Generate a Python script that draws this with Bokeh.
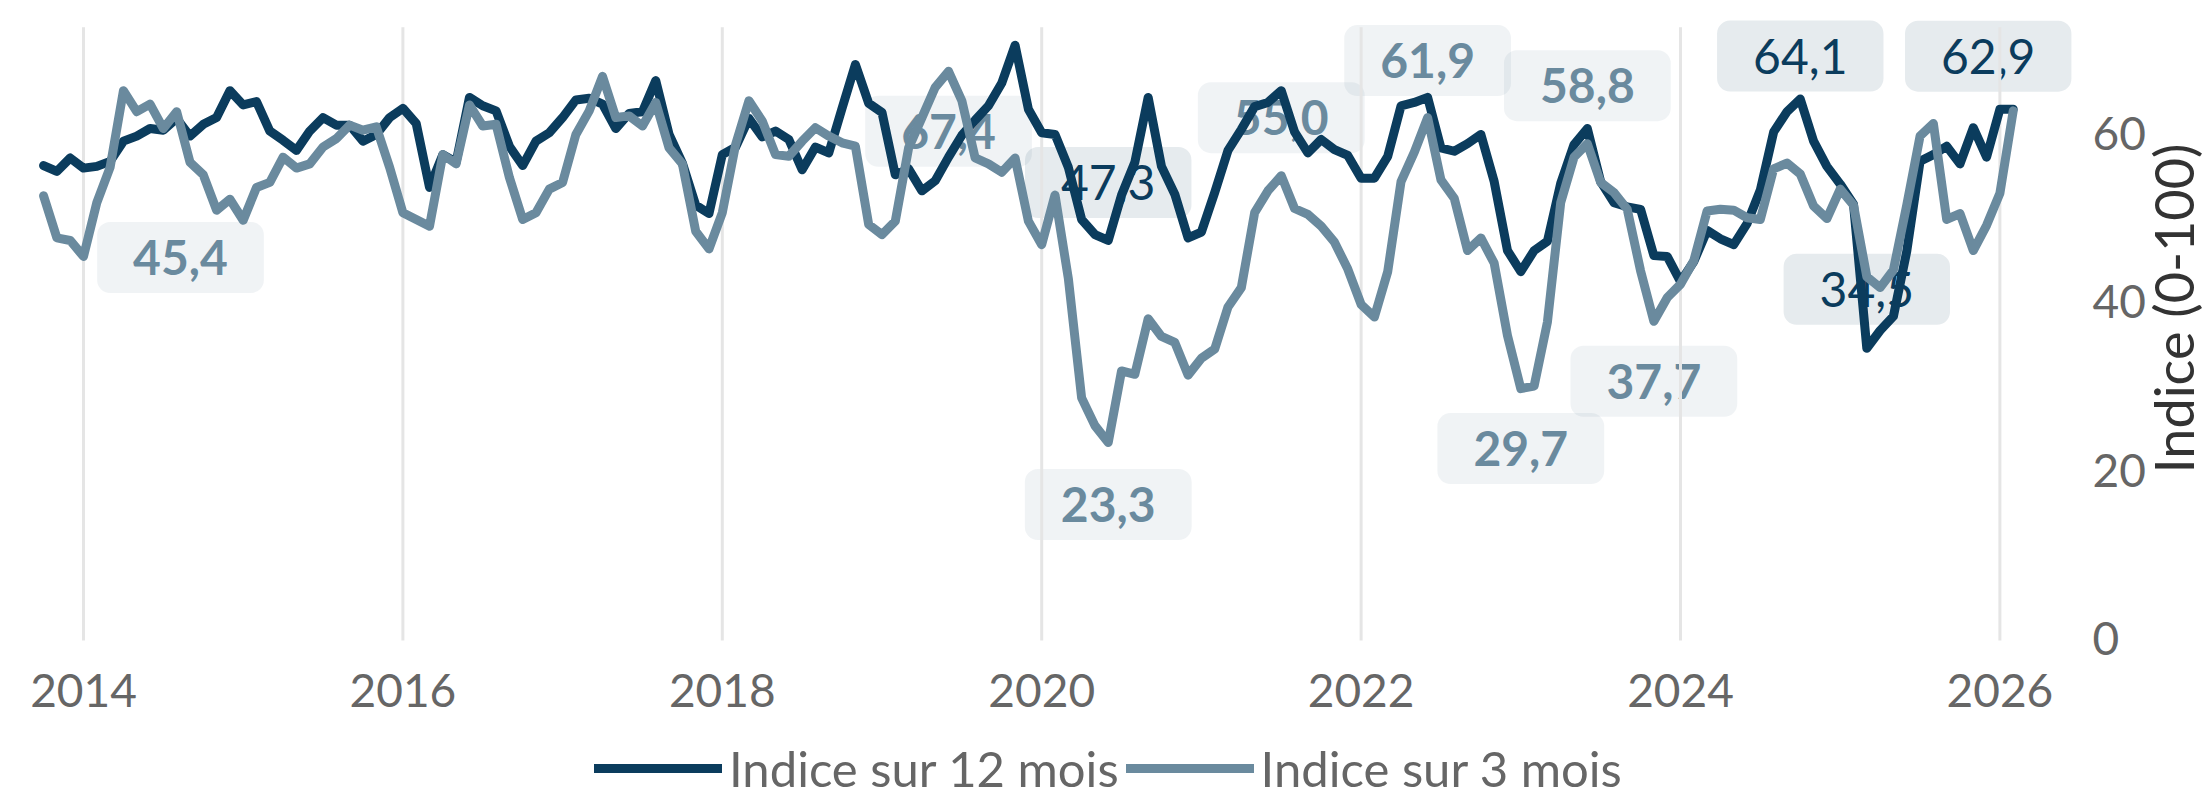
import math
import pandas as pd
from bokeh.plotting import figure
from bokeh.models import Label, Legend, LegendItem, Range1d
from bokeh.core.properties import value
from bokeh.embed import file_html
from bokeh.resources import INLINE

# ---- data (monthly, Oct 2013 -> Feb 2026) ----
first_month = "2013-10-01"

indice_12_mois = [
    56.2, 55.5, 57.1,                                                    # 2013 (oct-dec)
    55.9, 56.1, 56.7, 59.1, 59.7, 60.6, 60.4, 61.8, 59.7, 61.1, 61.9, 65.1,  # 2014
    63.4, 63.8, 60.3, 59.2, 58.0, 60.3, 61.9, 61.0, 61.0, 59.1, 59.9, 61.9,  # 2015
    63.0, 61.2, 53.6, 57.5, 56.6, 64.3, 63.3, 62.7, 58.5, 56.2, 59.1, 60.1,  # 2016
    61.9, 64.0, 64.2, 63.5, 60.6, 62.4, 62.6, 66.3, 59.9, 56.5, 51.5, 50.5,  # 2017
    57.5, 58.4, 61.8, 59.6, 60.3, 59.3, 55.7, 58.4, 57.7, 63.0, 68.2, 63.6,  # 2018
    62.5, 55.1, 55.8, 53.2, 54.4, 57.2, 59.8, 61.6, 63.3, 66.0, 70.5, 62.9,  # 2019
    60.1, 59.9, 56.0, 49.8, 48.0, 47.3, 52.7, 56.6, 64.3, 56.1, 52.8, 47.6,  # 2020
    48.3, 53.0, 58.0, 60.5, 63.2, 63.7, 65.1, 60.2, 57.7, 59.3, 58.1, 57.4,  # 2021
    54.7, 54.7, 57.3, 63.3, 63.7, 64.3, 58.3, 57.9, 58.8, 59.9, 54.3, 46.1,  # 2022
    43.6, 46.1, 47.2, 54.1, 58.7, 60.6, 54.3, 51.8, 51.3, 51.0, 45.5, 45.4,  # 2023
    42.4, 44.8, 48.5, 47.5, 46.8, 49.3, 53.3, 60.2, 62.6, 64.1, 59.1, 56.1,  # 2024
    54.0, 51.6, 34.5, 36.6, 38.3, 46.0, 56.7, 57.5, 58.5, 56.4, 60.7, 57.2,  # 2025
    62.9, 62.9,                                                          # 2026
]

indice_3_mois = [
    52.6, 47.6, 47.3,
    45.4, 51.8, 56.0, 65.1, 62.6, 63.5, 60.6, 62.6, 56.6, 55.1, 50.9, 52.2,
    49.7, 53.6, 54.2, 57.2, 55.9, 56.4, 58.4, 59.4, 61.0, 60.4, 60.8, 56.0,
    50.6, 49.8, 49.0, 57.5, 56.4, 63.4, 60.9, 61.1, 54.8, 49.8, 50.6, 53.4,
    54.2, 59.9, 62.7, 66.8, 61.9, 62.1, 60.9, 63.7, 58.3, 56.4, 48.4, 46.3,
    50.6, 58.7, 63.9, 61.5, 57.5, 57.3, 59.1, 60.7, 59.7, 58.9, 58.5, 49.2,
    48.0, 49.6, 58.3, 61.9, 65.5, 67.4, 63.9, 57.1, 56.4, 55.4, 57.1, 49.6,
    46.8, 52.7, 42.8, 28.6, 25.3, 23.3, 31.8, 31.4, 38.0, 35.9, 35.2, 31.3,
    33.3, 34.4, 39.4, 41.7, 50.6, 53.2, 55.0, 51.1, 50.4, 49.0, 47.1, 43.9,
    39.7, 38.2, 43.6, 54.3, 57.8, 61.9, 54.5, 52.3, 46.1, 47.6, 44.6, 36.0,
    29.7, 30.0, 37.6, 51.8, 57.2, 58.8, 54.2, 53.0, 51.0, 43.7, 37.7, 40.5,
    42.1, 44.9, 50.8, 51.0, 50.9, 50.0, 49.8, 55.8, 56.5, 55.2, 51.4, 49.9,
    53.4, 51.5, 43.0, 41.7, 43.8, 51.5, 59.7, 61.2, 49.8, 50.5, 46.1, 49.1,
    52.9, 62.7,
]

series_names = ["Indice sur 12 mois", "Indice sur 3 mois"]
x_ticks = [2014, 2016, 2018, 2020, 2022, 2024, 2026]
y_ticks = [0, 20, 40, 60]
y_title = "Indice (0-100)"

# annotated points: (series, month "YYYY-MM", x offset px, y offset px)
annotations = [
    ("3", "2014-01", 97, -1),
    ("3", "2019-06", 0, -60),
    ("12", "2020-06", 0, 58),
    ("3", "2020-06", 0, -62),
    ("3", "2021-07", 0, 58),
    ("3", "2022-06", 0, 57),
    ("3", "2023-01", 0, -60),
    ("3", "2023-06", 0, 58),
    ("3", "2023-11", 0, -60),
    ("12", "2024-10", 0, 43),
    ("12", "2025-03", 0, 59),
    ("12", "2026-02", -25, 53),
]

# ---- geometry (pixels) ----
W, H = 2207, 798
PX_YEAR = 159.7          # pixels per year
X0_PX = 83               # pixel of the first x tick
PX_UNIT = 8.417          # pixels per index point
Y0_PX = 638.1            # pixel row of index 0
x_start = x_ticks[0] - X0_PX / PX_YEAR
x_end = x_start + W / PX_YEAR
y_end = Y0_PX / PX_UNIT
y_start = -(H - Y0_PX) / PX_UNIT

def x_at(px):
    return x_start + px / PX_YEAR

def y_at(py):
    return (Y0_PX - py) / PX_UNIT

# ---- build ----
months = pd.date_range(first_month, periods=len(indice_12_mois), freq="MS")
xs = [d.year + (d.month - 1) / 12.0 for d in months]
keys = [d.strftime("%Y-%m") for d in months]

DARK = "#0b3c5d"
LIGHT = "#6a8a9e"
FONT = "Lato"

p = figure(width=W, height=H, output_backend="svg", toolbar_location=None,
           x_range=Range1d(x_start, x_end), y_range=Range1d(y_start, y_end),
           x_axis_location=None, y_axis_location=None,
           min_border=0, min_border_left=0, min_border_right=0,
           min_border_top=0, min_border_bottom=0)
p.outline_line_color = None
p.background_fill_color = "white"
p.border_fill_color = "white"
p.grid.visible = False

# vertical grid lines at the year ticks, from 0 to the top of the plot area
grid_top = y_at(26.7)
grid_bottom = y_at(640)
p.segment(x0=x_ticks, x1=x_ticks, y0=[grid_bottom] * len(x_ticks), y1=[grid_top] * len(x_ticks),
          line_color="#e5e5e5", line_width=3)

# x tick labels
p.text(x=x_ticks, y=[y_at(690)] * len(x_ticks), text=[str(t) for t in x_ticks],
       text_align="center", text_baseline="middle", text_font=value(FONT),
       text_font_size="46px", text_color="#666666")
# y tick labels (right side)
p.text(x=[x_at(2092)] * len(y_ticks), y=y_ticks, text=[str(t) for t in y_ticks],
       text_align="left", text_baseline="middle", text_font=value(FONT),
       text_font_size="46px", text_color="#666666")
# y axis title (rotated, reading upwards)
p.text(x=[x_at(2173)], y=[y_at(308)], text=[y_title], angle=math.pi / 2,
       text_align="center", text_baseline="middle", text_font=value(FONT),
       text_font_size="54px", text_color="#333333")

series = {"12": (indice_12_mois, DARK), "3": (indice_3_mois, LIGHT)}

for ser, key, dx, dy in annotations:
    vals, col = series[ser]
    i = keys.index(key)
    txt = f"{vals[i]:.1f}".replace(".", ",")
    lab = Label(x=xs[i], y=vals[i], text=txt, x_offset=dx, y_offset=dy,
                text_align="center", text_baseline="middle",
                text_font=FONT, text_font_size="48px",
                text_font_style="bold" if ser == "3" else "normal",
                text_color=col,
                background_fill_color=col, background_fill_alpha=0.1,
                border_radius=13, padding=dict(left=36, right=36, top=18, bottom=18),
                level="underlay")
    p.add_layout(lab)

r12 = p.line(xs, indice_12_mois, line_width=9, line_color=DARK,
             line_join="round", line_cap="round")
r3 = p.line(xs, indice_3_mois, line_width=9, line_color=LIGHT,
            line_join="round", line_cap="round")

legend = Legend(items=[LegendItem(label=series_names[0], renderers=[r12]),
                       LegendItem(label=series_names[1], renderers=[r3])],
                orientation="horizontal", location=(594, 0),
                glyph_width=128, glyph_height=60, label_height=60,
                label_standoff=7, spacing=7,
                padding=0, margin=0, border_line_color=None,
                background_fill_alpha=0,
                label_text_font=FONT, label_text_font_size="49px",
                label_text_color="#666666")
p.add_layout(legend)

open("out.html", "w").write(file_html(p, INLINE))
